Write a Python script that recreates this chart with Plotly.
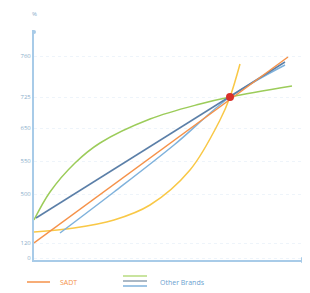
import plotly.graph_objects as go

# Data (arbitrary chart units)
orange_x = [0, 254]
orange_y = [17, 203]
navy_x = [2, 251]
navy_y = [42, 198]
lblue_x = [26, 80, 140, 196, 251]
lblue_y = [27, 68, 115, 163, 195]
green_x = [0, 16, 41, 66, 116, 166, 196, 258]
green_y = [40, 68, 97, 117, 141, 156, 163, 174]
yellow_x = [0, 40, 80, 116, 156, 186, 196, 206]
yellow_y = [28, 32, 40, 55, 90, 140, 163, 196]
point_x = [196]
point_y = [163]
tick_vals = [2, 17, 66, 99, 132, 163, 204]
tick_text = ["0", "120", "500", "550", "650", "725", "760"]

# page body has an 8px margin; compensate
OFF = 8
W, H = 310 - OFF, 293 - OFF
L, R, T, B = 34 - OFF, 5, 30 - OFF, 293 - 260

fig = go.Figure()
fig.add_trace(go.Scatter(x=green_x, y=green_y, mode="lines", line=dict(color="#9ccc5a", width=1.5, shape="spline")))
fig.add_trace(go.Scatter(x=yellow_x, y=yellow_y, mode="lines", line=dict(color="#f9c846", width=1.5, shape="spline")))
fig.add_trace(go.Scatter(x=lblue_x, y=lblue_y, mode="lines", line=dict(color="#7fb2dc", width=1.5, shape="spline")))
fig.add_trace(go.Scatter(x=navy_x, y=navy_y, mode="lines", line=dict(color="#5b7fa8", width=1.5)))
fig.add_trace(go.Scatter(x=orange_x, y=orange_y, mode="lines", line=dict(color="#f5924a", width=1.5)))
fig.add_trace(go.Scatter(x=point_x, y=point_y, mode="markers", marker=dict(color="#d9302a", size=8)))

pw = W - L - R
ph = H - T - B
def px(x):
    return (x - 34) / pw
def py(y):
    return (260 - y) / ph

fig.update_layout(
    width=W, height=H,
    margin=dict(l=L, r=R, t=T, b=B),
    plot_bgcolor="white", paper_bgcolor="white",
    showlegend=False,
    font=dict(family="Open Sans", size=6, color="#8aaecb"),
    xaxis=dict(range=[0, 271], showgrid=False, zeroline=False, showticklabels=False,
               showline=True, linecolor="#a8cbe8", linewidth=2),
    yaxis=dict(range=[0, 230], tickvals=tick_vals, ticktext=tick_text, showgrid=True,
               gridcolor="#eef4fa", griddash="dot", zeroline=False,
               showline=True, linecolor="#a8cbe8", linewidth=2, ticks="", ticklen=0),
    annotations=[
        dict(text="%", x=0, y=py(14), xref="paper", yref="paper", xanchor="center", yanchor="middle",
             showarrow=False, font=dict(size=6)),
        dict(text="SADT", x=px(58), y=py(282), xref="paper", yref="paper", xanchor="left", yanchor="middle",
             showarrow=False, font=dict(size=7, color="#f5924a")),
        dict(text="Other Brands", x=px(158), y=py(282), xref="paper", yref="paper", xanchor="left", yanchor="middle",
             showarrow=False, font=dict(size=7, color="#6a9fd0")),
    ],
)
fig.add_shape(type="line", xref="paper", yref="paper", x0=px(27), x1=px(50), y0=py(282), y1=py(282),
              line=dict(color="#f5924a", width=1.5))
for yy, col in [(276, "#b7db7f"), (281, "#8fa0b2"), (286, "#7fb2dc")]:
    fig.add_shape(type="line", xref="paper", yref="paper", x0=px(123), x1=px(147), y0=py(yy), y1=py(yy),
                  line=dict(color=col, width=1.5))
fig.add_shape(type="path", xref="paper", yref="paper",
              path=f"M {px(301)} {py(257)} L {px(307)} {py(260)} L {px(301)} {py(263)} Z",
              fillcolor="#a8cbe8", line=dict(width=0))
fig.add_shape(type="circle", xref="paper", yref="paper", x0=px(32), x1=px(36), y0=py(30), y1=py(34),
              fillcolor="#a8cbe8", line=dict(width=0))
fig.write_html("out.html")
